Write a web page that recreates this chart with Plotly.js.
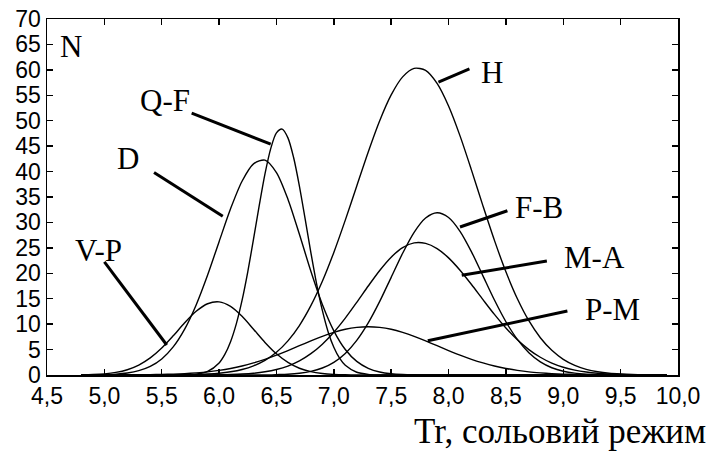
<!DOCTYPE html>
<html>
<head>
<meta charset="utf-8">
<script src="https://cdn.plot.ly/plotly-3.0.1.min.js"></script>
<style>html,body{margin:0;padding:0;background:#fff;}#chart{width:718px;height:455px;}</style>
</head>
<body>
<div id="chart"></div>
<script>
// Tr grid (x values) and N values
var tr = [4.8,4.9,5.0,5.1,5.2,5.3,5.4,5.5,5.6,5.7,5.8,5.9,6.0,6.1,6.2,6.3,6.4,6.5,6.6,6.7,6.8,6.9,7.0,7.1,7.2,7.3,7.4,7.5,7.6,7.7,7.8,7.9,8.0,8.1,8.2,8.3,8.4,8.5,8.6,8.7,8.8,8.9,9.0,9.1,9.2,9.3,9.4,9.5,9.6,9.7,9.8,9.9];

var vp = [0.02,0.09,0.23,0.51,1.04,1.95,3.36,5.31,7.71,10.26,12.52,14.01,14.37,13.48,11.53,9.0,6.41,4.16,2.47,1.33,0.66,0.30,0.12,0.04,0.01,0,0,0,0,0,0,0,0,0,0,0,0,0,0,0,0,0,0,0,0,0,0,0,0,0,0,0];
var d  = [0.01,0.03,0.07,0.17,0.40,0.85,1.69,3.16,5.53,9.03,13.78,19.66,26.22,32.69,38.1,41.51,42.26,39.81,34.57,27.67,20.4,13.87,8.69,5.01,2.67,1.31,0.59,0.25,0.10,0.04,0.01,0,0,0,0,0,0,0,0,0,0,0,0,0,0,0,0,0,0,0,0,0];
var h  = [0,0,0,0,0,0,0,0,0.02,0.05,0.10,0.19,0.35,0.63,1.08,1.80,2.88,4.47,6.71,9.73,13.63,18.43,24.1,30.45,37.18,43.86,50.0,55.07,58.62,60.29,59.89,57.33,52.89,47.02,40.29,33.26,26.47,20.29,15.0,10.68,7.33,4.85,3.09,1.90,1.12,0.64,0.35,0.19,0.09,0.04,0.02,0];
var fb = [0,0,0,0,0,0,0,0,0,0,0,0,0,0,0,0,0,0.07,0.16,0.35,0.71,1.38,2.50,4.25,6.81,10.24,14.47,19.2,23.94,28.05,30.86,31.9,30.98,28.26,24.22,19.49,14.74,10.47,6.99,4.38,2.58,1.43,0.74,0.36,0.17,0.07,0.03,0,0,0,0,0];
var ma = [0,0,0,0,0,0,0,0,0,0,0,0.02,0.05,0.10,0.19,0.35,0.63,1.08,1.76,2.77,4.19,6.06,8.41,11.19,14.29,17.5,20.56,23.17,25.05,25.98,25.87,24.85,23.03,20.6,17.79,14.82,11.91,9.24,6.92,5.0,3.49,2.34,1.52,0.95,0.58,0.34,0.19,0.10,0.05,0.02,0,0];
var pm = [0,0,0.01,0.01,0.02,0.03,0.06,0.11,0.17,0.27,0.42,0.62,0.91,1.29,1.77,2.37,3.08,3.90,4.81,5.76,6.71,7.61,8.38,8.99,9.37,9.5,9.37,8.99,8.38,7.61,6.71,5.76,4.81,3.90,3.08,2.37,1.77,1.29,0.91,0.62,0.42,0.27,0.17,0.11,0.06,0.03,0.02,0.01,0.01,0,0,0];

// Q-F is narrow: read on a finer Tr grid
var trQF = [4.8,5.6,5.7,5.8,5.9,6.0,6.05,6.1,6.15,6.2,6.25,6.3,6.35,6.4,6.45,6.5,6.55,6.6,6.65,6.7,6.75,6.8,6.85,6.9,6.95,7.0,7.05,7.1,7.2,7.3,7.4,7.5,9.9];
var qf   = [0,  0,  0.03,0.17,0.70,2.38,4.05,6.55,10.06,14.67,20.3,26.7,33.33,39.53,44.51,47.61,48.35,46.63,42.71,37.15,30.69,24.08,17.93,12.69,8.52,5.44,3.30,1.90,0.54,0.12,0.02,0,0];

var seriesNames = ["V-P","D","Q-F","H","F-B","M-A","P-M"];
var seriesX = [tr, tr, trQF, tr, tr, tr, tr];
var seriesData = [vp, d, qf, h, fb, ma, pm];

var xTickVals = [4.5,5.0,5.5,6.0,6.5,7.0,7.5,8.0,8.5,9.0,9.5,10.0];
var xTickText = ["4,5","5,0","5,5","6,0","6,5","7,0","7,5","8,0","8,5","9,0","9,5","10,0"];
var yTickVals = [0,5,10,15,20,25,30,35,40,45,50,55,60,65,70];

var yLabel = "N";
var xLabel = "Tr, сольовий режим";

var traces = seriesData.map(function(ys, i){
  return {x: seriesX[i], y: ys, name: seriesNames[i], type: 'scatter', mode: 'lines',
    line: {color: '#000', width: 1.4, shape: 'spline', smoothing: 0.8},
    hoverinfo: 'skip', cliponaxis: true};
});

// label placement (layout only)
var labelPos = {
  "V-P": {tx: 4.95, ty: 24.4, l: [5.0, 22.25, 5.544, 5.9]},
  "D":   {tx: 5.204, ty: 42.6, l: [5.433, 39.8, 6.032, 31.2]},
  "Q-F": {tx: 5.529, ty: 54.0, l: [5.761, 51.5, 6.45, 45.4]},
  "H":   {tx: 8.377, ty: 59.4, l: [7.912, 57.6, 8.182, 60.2]},
  "F-B": {tx: 8.788, ty: 33.0, l: [8.10, 29.1, 8.513, 32.3]},
  "M-A": {tx: 9.276, ty: 23.2, l: [8.115, 19.6, 8.857, 22.4]},
  "P-M": {tx: 9.426, ty: 12.8, l: [7.819, 6.73, 9.036, 12.57]}
};

var serif = '"Liberation Serif", "Times New Roman", serif';
var annotations = [];
var shapes = [];
seriesNames.forEach(function(n){
  var p = labelPos[n];
  annotations.push({x: p.tx, y: p.ty, xref: 'x', yref: 'y', text: n, showarrow: false,
    xanchor: 'center', yanchor: 'middle', font: {family: serif, size: 31, color: '#000'}});
  shapes.push({type: 'line', xref: 'x', yref: 'y', x0: p.l[0], y0: p.l[1], x1: p.l[2], y1: p.l[3],
    line: {color: '#000', width: 3}});
});
annotations.push({x: 4.707, y: 64.5, xref: 'x', yref: 'y', text: yLabel, showarrow: false,
  xanchor: 'center', yanchor: 'middle', font: {family: serif, size: 31, color: '#000'}});
annotations.push({x: 1.048, y: -0.16, xref: 'paper', yref: 'paper', text: xLabel, showarrow: false,
  xanchor: 'right', yanchor: 'middle', font: {family: serif, size: 35, color: '#000'}});

var sans = '"Liberation Sans", Arial, sans-serif';
var layout = {
  width: 718, height: 455,
  margin: {l: 47, r: 40, t: 19, b: 80, pad: 0},
  paper_bgcolor: '#fff', plot_bgcolor: '#fff',
  showlegend: false,
  xaxis: {range: [4.5, 10.0], tickvals: xTickVals, ticktext: xTickText,
    ticks: 'inside', ticklen: 6, tickwidth: 1.5, tickcolor: '#000',
    showline: true, linecolor: '#000', linewidth: 1.5, mirror: 'ticks',
    showgrid: false, zeroline: false, tickfont: {family: sans, size: 23, color: '#000'}},
  yaxis: {range: [0, 70], tickvals: yTickVals,
    ticks: 'inside', ticklen: 6, tickwidth: 1.5, tickcolor: '#000',
    showline: true, linecolor: '#000', linewidth: 1.5, mirror: 'ticks',
    showgrid: false, zeroline: false, tickfont: {family: sans, size: 23, color: '#000'}},
  annotations: annotations,
  shapes: shapes
};

Plotly.newPlot('chart', traces, layout, {displayModeBar: false, staticPlot: true});
</script>
</body>
</html>
